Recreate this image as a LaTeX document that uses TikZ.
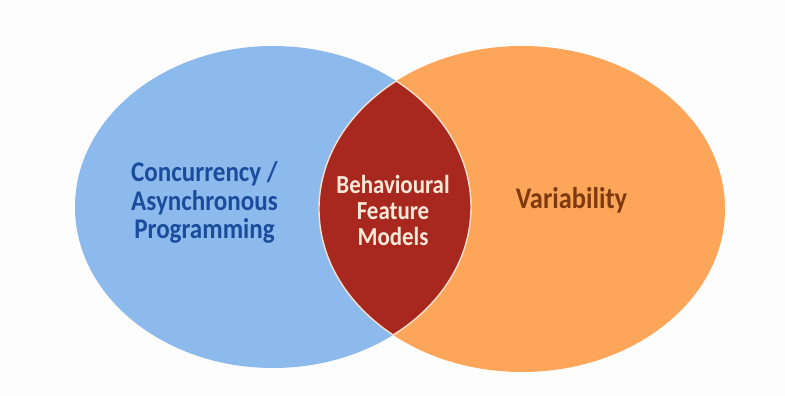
\documentclass[tikz,border=0pt]{standalone}
\usepackage{fontspec}
\setmainfont{Carlito}[FakeStretch=0.88]
\usepackage{tikz}

\definecolor{bgwhite}{HTML}{FDFDFE}
\definecolor{concblue}{HTML}{8DBAED}
\definecolor{concink}{HTML}{1B4C9C}
\definecolor{varorange}{HTML}{FDA659}
\definecolor{varink}{HTML}{7E3A0E}
\definecolor{bfmred}{HTML}{A82820}
\definecolor{bfmink}{HTML}{FBE9D8}
\definecolor{bfmrim}{HTML}{F5E0CC}

\tikzset{
	venntext/.style={align=center, anchor=base, font=\bfseries},
}

\begin{document}
\begin{tikzpicture}[x=1pt,y=1pt]
	\fill[bgwhite] (0,0) rectangle (785,396);
	\useasboundingbox (0,0) rectangle (785,396);

	% the two sets
	\fill[concblue] (273,189) ellipse [x radius=198, y radius=161];
	\fill[varorange] (522,187) ellipse [x radius=203, y radius=163];

	% overlap
	\begin{scope}
		\clip (273,189) ellipse [x radius=198, y radius=161];
		\fill[bfmred] (522,187) ellipse [x radius=203, y radius=163];
		\draw[bfmrim, line width=1.4pt] (522,187) ellipse [x radius=203, y radius=163];
	\end{scope}
	\begin{scope}
		\clip (522,187) ellipse [x radius=203, y radius=163];
		\draw[bfmrim, line width=1.4pt] (273,189) ellipse [x radius=198, y radius=161];
	\end{scope}

	\node[venntext, text=concink, font=\bfseries\fontsize{28.5}{28.5}\selectfont]
		(conc) at (204.5,157) {Concurrency /\\Asynchronous\\Programming};
	\node[venntext, text=varink, font=\bfseries\fontsize{30}{30}\selectfont]
		(var) at (571.5,187) {Variability};
	\node[venntext, text=bfmink, font=\bfseries\fontsize{26}{26}\selectfont]
		(bfm) at (393,150) {Behavioural\\Feature\\Models};
\end{tikzpicture}
\end{document}
